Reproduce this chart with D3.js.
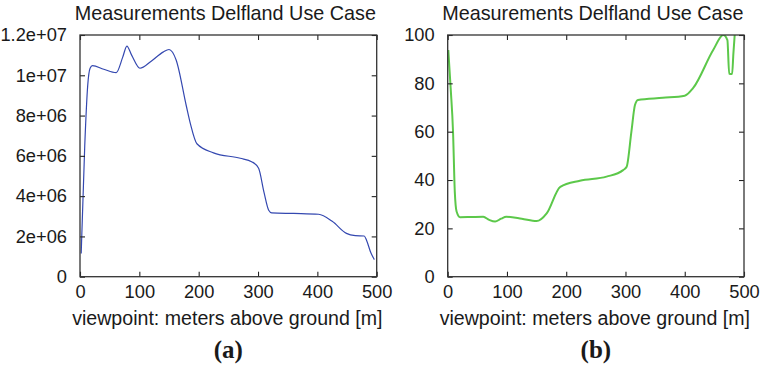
<!DOCTYPE html>
<html>
<head>
<meta charset="utf-8">
<script src="https://cdn.jsdelivr.net/npm/d3@7"></script>
<style>
  body { margin: 0; background: #fff; }
  text { font-family: 'Liberation Sans', Arial, sans-serif; fill: #1a1a1a; }
</style>
</head>
<body>
<script>
const heightsA = [2, 8, 13, 17, 21, 40, 61, 72, 79, 87, 101, 120, 140, 150, 162, 179, 186, 197, 225, 270, 290, 301, 310, 318, 323, 360, 402, 425, 449, 464, 479, 483, 490, 496];
const valuesA = [1.15e6, 6.5e6, 9.5e6, 1.035e7, 1.048e7, 1.03e7, 1.013e7, 1.09e7, 1.145e7, 1.1e7, 1.035e7, 1.07e7, 1.115e7, 1.128e7, 1.076e7, 8.5e6, 7.6e6, 6.6e6, 6.15e6, 5.88e6, 5.7e6, 5.38e6, 4.2e6, 3.3e6, 3.17e6, 3.14e6, 3.1e6, 2.75e6, 2.15e6, 2.04e6, 2.02e6, 1.8e6, 1.2e6, 0.85e6];

const heightsB = [1, 5, 9, 12, 15, 21, 40, 60, 70, 80, 90, 99, 125, 150, 167, 190, 223, 268, 296, 302, 310, 316, 321, 363, 400, 414, 448, 465, 472, 475, 480, 482, 486];
const valuesB = [93.8, 78, 60, 35, 27, 24.6, 24.7, 24.8, 23.5, 22.8, 24, 24.8, 24, 23, 26.2, 37.2, 39.7, 41.4, 44.1, 45.5, 60, 71, 73.1, 74, 74.9, 78, 93.8, 100, 97.9, 84, 83.9, 92, 106];

const xTicks = [0, 100, 200, 300, 400, 500];
const yTicksA = [0, 2e6, 4e6, 6e6, 8e6, 1e7, 1.2e7];
const yTicksB = [0, 20, 40, 60, 80, 100];
const yLabelsA = ['0', '2e+06', '4e+06', '6e+06', '8e+06', '1e+07', '1.2e+07'];

const title = 'Measurements Delfland Use Case';
const xLabel = 'viewpoint: meters above ground [m]';

const svg = d3.select('body').append('svg')
  .attr('width', 763)
  .attr('height', 368);

function panel(id, left, right, heights, values, yMax, yTicks, yFmt, color, lw, caption) {
  const top = 35, bottom = 276.7;
  const x = d3.scaleLinear().domain([0, 500]).range([left, right]);
  const y = d3.scaleLinear().domain([0, yMax]).range([bottom, top]);
  const g = svg.append('g');

  g.append('clipPath').attr('id', 'clip' + id)
    .append('rect').attr('x', left).attr('y', top).attr('width', right - left).attr('height', bottom - top);

  const data = heights.map((h, i) => [h, values[i]]);
  const line = d3.line().x(d => x(d[0])).y(d => y(d[1])).curve(d3.curveMonotoneX);
  g.append('path')
    .datum(data)
    .attr('clip-path', `url(#clip${id})`)
    .attr('fill', 'none')
    .attr('stroke', color)
    .attr('stroke-width', lw)
    .attr('stroke-linejoin', 'round')
    .attr('d', line);

  const tickLen = 5;
  // inward ticks on all four sides
  g.append('g').attr('transform', `translate(0,${bottom})`)
    .call(d3.axisBottom(x).tickValues(xTicks).tickSize(-tickLen).tickPadding(8).tickFormat(d3.format('d')))
    .call(a => a.select('.domain').remove());
  g.append('g').attr('transform', `translate(0,${top})`)
    .call(d3.axisTop(x).tickValues(xTicks).tickSize(-tickLen).tickFormat(''))
    .call(a => a.select('.domain').remove());
  g.append('g').attr('transform', `translate(${left},0)`)
    .call(d3.axisLeft(y).tickValues(yTicks).tickSize(-tickLen).tickPadding(13).tickFormat(yFmt))
    .call(a => a.select('.domain').remove());
  g.append('g').attr('transform', `translate(${right},0)`)
    .call(d3.axisRight(y).tickValues(yTicks).tickSize(-tickLen).tickFormat(''))
    .call(a => a.select('.domain').remove());

  g.selectAll('.tick line').attr('stroke', '#222').attr('stroke-width', 1.1);
  g.selectAll('.tick text')
    .style('font-family', "'Liberation Sans', Arial, sans-serif")
    .style('font-size', '18.3px')
    .attr('fill', '#1a1a1a');

  g.append('rect')
    .attr('x', left).attr('y', top)
    .attr('width', right - left).attr('height', bottom - top)
    .attr('fill', 'none').attr('stroke', '#333').attr('stroke-width', 1.3);

  const cx = (left + right) / 2;
  g.append('text').attr('x', cx - 3).attr('y', 20)
    .attr('text-anchor', 'middle').style('font-size', '19.8px').text(title);
  g.append('text').attr('x', cx - 1).attr('y', 325)
    .attr('text-anchor', 'middle').style('font-size', '19.6px').text(xLabel);
  g.append('text').attr('x', cx).attr('y', 358)
    .attr('text-anchor', 'middle')
    .style('font-family', "'Liberation Serif', 'Times New Roman', serif")
    .style('font-weight', 'bold').style('font-size', '25px').text(caption);
}

panel('a', 80, 376.7, heightsA, valuesA, 1.2e7, yTicksA, (d, i) => yLabelsA[i], '#3448b0', 1.2, '(a)');
panel('b', 447.7, 744, heightsB, valuesB, 100, yTicksB, d3.format('d'), '#5cc84a', 2, '(b)');
</script>
</body>
</html>
